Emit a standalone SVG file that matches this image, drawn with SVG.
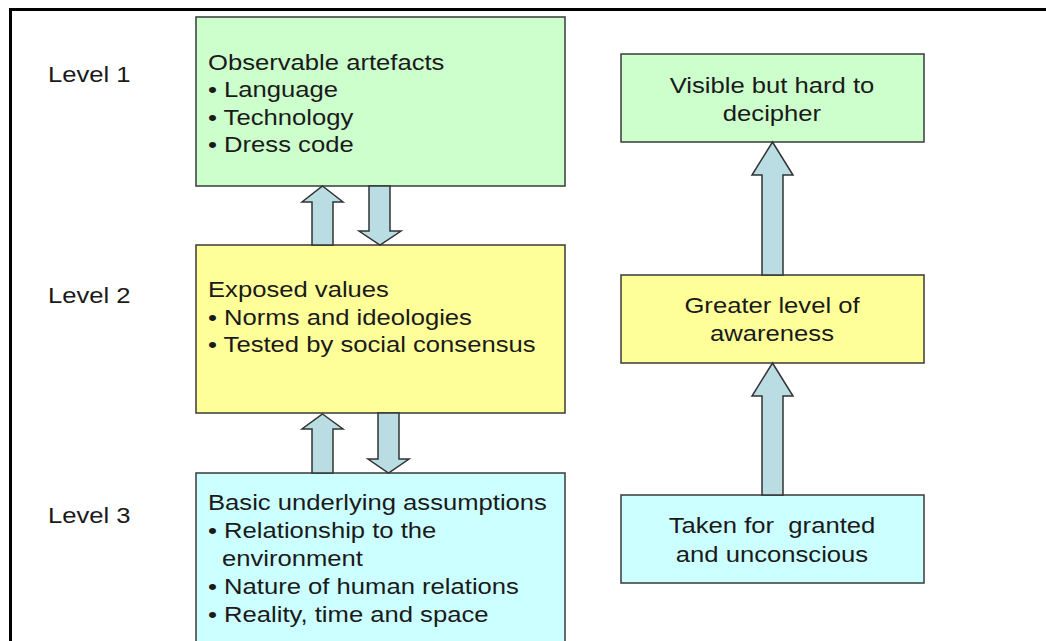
<svg xmlns="http://www.w3.org/2000/svg" width="1046" height="641" viewBox="0 0 1046 641">
  <style>
    .t { font-family: "Liberation Sans", Arial, sans-serif; font-size: 22px; fill: #1a1a1a; }
    .c { text-anchor: middle; }
    .box { stroke: #3a3a3a; stroke-width: 1.5; }
    .g { fill: #CCFFCC; }
    .y { fill: #FFFF99; }
    .b { fill: #CCFFFF; }
    .arrow { fill: #B9DDE2; stroke: #333333; stroke-width: 1.5; stroke-linejoin: miter; }
    .pre { white-space: pre; }
  </style>

  <rect x="0" y="0" width="1046" height="641" fill="#ffffff"/>
  <!-- outer frame -->
  <rect x="10.5" y="9.5" width="1100" height="700" fill="none" stroke="#000000" stroke-width="3"/>

  <!-- level labels -->
  <g id="level-labels">
    <text class="t" transform="translate(48,82) scale(1.165,1)">Level 1</text>
    <text class="t" transform="translate(48,303) scale(1.165,1)">Level 2</text>
    <text class="t" transform="translate(48,523) scale(1.165,1)">Level 3</text>
  </g>

  <g id="artefacts">
    <rect class="box g" x="196" y="17" width="369" height="169"/>
    <text class="t" transform="translate(208,70) scale(1.165,1)">Observable artefacts</text>
    <text class="t" transform="translate(208,97) scale(1.165,1)">• Language</text>
    <text class="t" transform="translate(208,125) scale(1.165,1)">• Technology</text>
    <text class="t" transform="translate(208,152) scale(1.165,1)">• Dress code</text>
  </g>

  <g id="values">
    <rect class="box y" x="196" y="245" width="369" height="168"/>
    <text class="t" transform="translate(208,297) scale(1.165,1)">Exposed values</text>
    <text class="t" transform="translate(208,325) scale(1.165,1)">• Norms and ideologies</text>
    <text class="t" transform="translate(208,352) scale(1.165,1)">• Tested by social consensus</text>
  </g>

  <g id="assumptions">
    <rect class="box b" x="196" y="473" width="369" height="220"/>
    <text class="t" transform="translate(208,510) scale(1.165,1)">Basic underlying assumptions</text>
    <text class="t" transform="translate(208,538) scale(1.165,1)">• Relationship to the</text>
    <text class="t" transform="translate(222,566) scale(1.165,1)">environment</text>
    <text class="t" transform="translate(208,594) scale(1.165,1)">• Nature of human relations</text>
    <text class="t" transform="translate(208,622) scale(1.165,1)">• Reality, time and space</text>
  </g>

  <g id="visible">
    <rect class="box g" x="621" y="54" width="303" height="88"/>
    <text class="t c" transform="translate(772,93) scale(1.165,1)">Visible but hard to</text>
    <text class="t c" transform="translate(772,121) scale(1.165,1)">decipher</text>
  </g>

  <g id="awareness">
    <rect class="box y" x="621" y="275" width="303" height="88"/>
    <text class="t c" transform="translate(772,313) scale(1.165,1)">Greater level of</text>
    <text class="t c" transform="translate(772,341) scale(1.165,1)">awareness</text>
  </g>

  <g id="unconscious">
    <rect class="box b" x="621" y="495" width="303" height="88"/>
    <text class="t c pre" transform="translate(772,533) scale(1.165,1)">Taken for  granted</text>
    <text class="t c" transform="translate(772,562) scale(1.165,1)">and unconscious</text>
  </g>

  <g id="connectors">
    <!-- between level 1 and level 2 -->
    <polygon class="arrow" points="322.5,186 343,202 333,202 333,245 312,245 312,202 302,202"/>
    <polygon class="arrow" points="369,186 390,186 390,231 401,231 380,245 359,231 369,231"/>
    <!-- between level 2 and level 3 -->
    <polygon class="arrow" points="322.5,414 343,429 333,429 333,473 312,473 312,429 302,429"/>
    <polygon class="arrow" points="378,413 399,413 399,459 409,459 388.5,473 368,459 378,459"/>
    <!-- right column -->
    <polygon class="arrow" points="772.5,142 793,175 783,175 783,275 762,275 762,175 752,175"/>
    <polygon class="arrow" points="772.5,363 793,396 783,396 783,495 762,495 762,396 752,396"/>
  </g>
</svg>
